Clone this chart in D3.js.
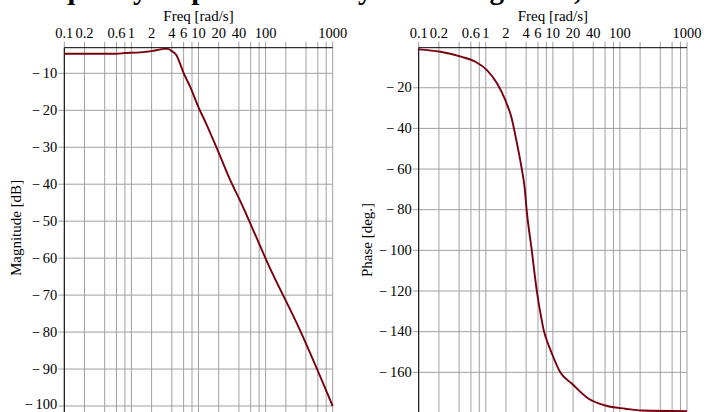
<!DOCTYPE html>
<html>
<head>
<meta charset="utf-8">
<script src="https://cdn.jsdelivr.net/npm/d3@7"></script>
<style>
  body { margin: 0; background: #fff; }
  text { font-family: "Liberation Serif", "DejaVu Serif", serif; fill: #000; }
</style>
</head>
<body>
<svg id="chart" width="704" height="412"></svg>
<script>
// magnitude curve
var magFreq = [0.1, 0.3, 0.6, 0.8, 1.2, 1.6, 2, 2.6, 3, 3.5, 4, 4.7, 5.4, 5.9, 7.5, 9.9, 13.3, 19.7, 31.3, 41.3, 73.8, 104, 324, 1000];
var magDb = [-4.7, -4.7, -4.7, -4.5, -4.4, -4.2, -4.0, -3.6, -3.4, -3.4, -4.0, -5.1, -7.7, -9.6, -13.6, -19.0, -24.0, -31.2, -39.8, -44.3, -54.6, -60.8, -79.4, -100];

// phase curve
var phaseFreq = [0.1, 0.21, 0.44, 0.7, 1.04, 1.47, 1.95, 2.4, 2.85, 3.4, 3.81, 4.07, 4.84, 5.74, 6.82, 7.3, 8.09, 9.6, 12.9, 19.3, 34.2, 60.6, 120, 213, 1000];
var phaseDeg = [-1.1, -2.3, -4.8, -7.2, -11.3, -17.8, -26.0, -34.3, -45.7, -59, -69.5, -80.2, -99.8, -119.5, -134.3, -139.2, -144.1, -150.5, -160, -165.6, -173, -176.3, -177.9, -178.8, -179.1];

// axis ticks
var freqLabels = [0.1, 0.2, 0.6, 1, 2, 4, 6, 10, 20, 40, 100, 1000];
var gridMult = [1, 2, 4, 6, 8];
var magTicks = [-10, -20, -30, -40, -50, -60, -70, -80, -90, -100];
var phaseTicks = [-20, -40, -60, -80, -100, -120, -140, -160];

var svg = d3.select("#chart");
var lineColor = "#78000E";
var gridColor = "#a0a0a0";

// all gridline frequencies 1,2,4,6,8 per decade
var gridFreq = [];
[0.1, 1, 10, 100].forEach((dec)=> {
    gridMult.forEach((m)=> { gridFreq.push(+(dec * m).toPrecision(3)); });
});
gridFreq.push(1000);

function fmt(v){
    // minus sign with a thin gap like the original
    return v < 0 ? "\u2212\u2009" + Math.abs(v) : String(v);
}

//title, mostly cut off at top of the window
svg.append("text")
    .attr("x", 16).attr("y", -1)
    .style("font-size", "29px").style("font-weight", "bold")
    .text("Frequency response of the system using Bode,");

function buildPlot(opts){
    var x = d3.scaleLog().domain([0.1, 1000]).range([opts.left, opts.right]);
    var y = d3.scaleLinear().domain(opts.yDomain).range([opts.top, opts.bottom]);
    var g = svg.append("g");

    // vertical grid + outward ticks on top
    g.selectAll(".vg").data(gridFreq).enter().append("line")
        .attr("x1", d => x(d)).attr("x2", d => x(d))
        .attr("y1", opts.top - 6).attr("y2", opts.bottom)
        .attr("stroke", gridColor).attr("stroke-width", 1);

    // horizontal grid + outward ticks on left
    g.selectAll(".hg").data(opts.yTicks).enter().append("line")
        .attr("x1", opts.left - 6).attr("x2", opts.right)
        .attr("y1", d => y(d)).attr("y2", d => y(d))
        .attr("stroke", gridColor).attr("stroke-width", 1);

    // frame on top and left
    g.append("line").attr("x1", opts.left).attr("x2", opts.right)
        .attr("y1", opts.top).attr("y2", opts.top).attr("stroke", "#000");
    g.append("line").attr("x1", opts.left).attr("x2", opts.left)
        .attr("y1", opts.top).attr("y2", opts.bottom).attr("stroke", "#000");

    // top tick labels
    g.selectAll(".xl").data(freqLabels).enter().append("text")
        .attr("x", d => x(d)).attr("y", 38)
        .attr("text-anchor", "middle").style("font-size", "14.5px")
        .text(d => d);

    g.append("text")
        .attr("x", (opts.left + opts.right) / 2).attr("y", 21)
        .attr("text-anchor", "middle").style("font-size", "15px")
        .text("Freq [rad/s]");

    // y tick labels (last one kept inside the window)
    g.selectAll(".yl").data(opts.yTicks).enter().append("text")
        .attr("x", opts.left - 7).attr("y", d => Math.min(y(d) + 4.5, 408.6))
        .attr("text-anchor", "end").style("font-size", "14.5px")
        .text(d => fmt(d));

    g.append("text")
        .attr("transform", "translate(" + opts.labelX + "," + opts.labelY + ") rotate(-90)")
        .attr("text-anchor", "middle").style("font-size", "15px")
        .text(opts.yLabel);

    // the curve
    var line = d3.line()
        .curve(d3.curveMonotoneX)
        .x(d => x(d[0]))
        .y(d => y(d[1]));
    var pts = d3.zip(opts.xs, opts.ys);
    g.append("path").datum(pts)
        .attr("d", line)
        .attr("fill", "none")
        .attr("stroke", lineColor)
        .attr("stroke-width", 1.9)
        .attr("stroke-linejoin", "round");
}

//magnitude plot
buildPlot({
    left: 64.3, right: 332.7, top: 47.7, bottom: 413.4,
    yDomain: [-3.07, -102], yTicks: magTicks,
    yLabel: "Magnitude [dB]", labelX: 21, labelY: 228,
    xs: magFreq, ys: magDb
});

//phase plot
buildPlot({
    left: 418.7, right: 687, top: 47.7, bottom: 413,
    yDomain: [-0.3, -180], yTicks: phaseTicks,
    yLabel: "Phase [deg.]", labelX: 372, labelY: 240,
    xs: phaseFreq, ys: phaseDeg
});
</script>
</body>
</html>
